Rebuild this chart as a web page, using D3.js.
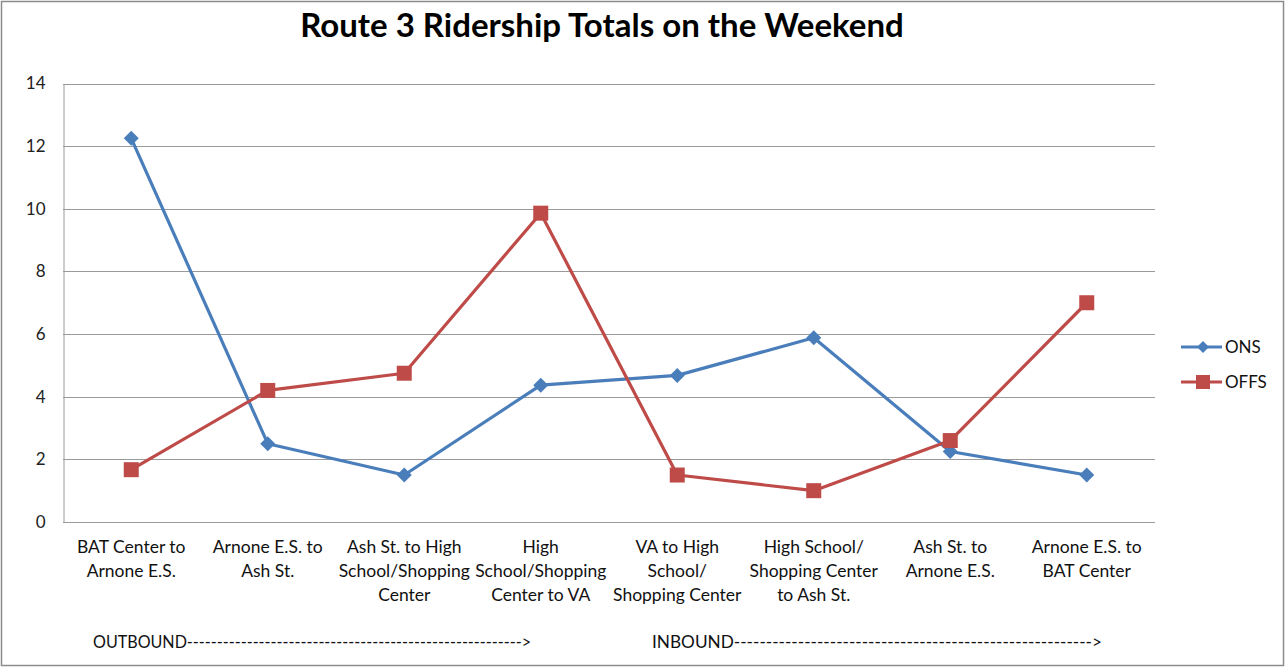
<!DOCTYPE html>
<html>
<head>
<meta charset="utf-8">
<script src="https://cdnjs.cloudflare.com/ajax/libs/d3/7.8.5/d3.min.js"></script>
<style>
  html, body { margin: 0; padding: 0; background: #fff; }
  svg { display: block; font-family: Lato, "Open Sans", sans-serif; }
</style>
</head>
<body>
<svg id="chart" width="1285" height="667"></svg>
<script>
// Route segments, in running order
const categories = [
  ["BAT Center to", "Arnone E.S."],
  ["Arnone E.S. to", "Ash St."],
  ["Ash St. to High", "School/Shopping", "Center"],
  ["High", "School/Shopping", "Center to VA"],
  ["VA to High", "School/", "Shopping Center"],
  ["High School/", "Shopping Center", "to Ash St."],
  ["Ash St. to", "Arnone E.S."],
  ["Arnone E.S. to", "BAT Center"]
];
const ons  = [12.25, 2.5, 1.5, 4.37, 4.68, 5.88, 2.25, 1.5];
const offs = [1.67, 4.2, 4.75, 9.86, 1.5, 1.0, 2.6, 7.0];
const yTicks = [0, 2, 4, 6, 8, 10, 12, 14];
const seriesNames = ["ONS", "OFFS"];
const directionLabels = ["OUTBOUND", "INBOUND"];

const colors = { ONS: "#4A7EBB", OFFS: "#BE4B48" };

const svg = d3.select("#chart");
const W = 1285, H = 667;

// outer frame
svg.append("rect").attr("x", 1.5).attr("y", 1.5).attr("width", W - 3).attr("height", H - 3)
  .attr("fill", "#fff").attr("stroke", "#8c8c8c").attr("stroke-width", 1.5);

const plot = { left: 63, right: 1155, top: 83.5, bottom: 522 };

const x = d3.scaleBand().domain(d3.range(categories.length))
  .range([plot.left, plot.right]).paddingInner(0).paddingOuter(0);
const y = d3.scaleLinear().domain([0, 14]).range([plot.bottom, plot.top]);
const cx = i => x(i) + x.bandwidth() / 2;

// title
svg.append("text").attr("x", 602).attr("y", 37).attr("text-anchor", "middle")
  .attr("font-size", 33).attr("font-weight", "bold").attr("fill", "#000")
  .text("Route 3 Ridership Totals on the Weekend");

// horizontal gridlines
svg.append("g").selectAll("line").data(yTicks.filter(d => d > 0)).join("line")
  .attr("x1", plot.left).attr("x2", plot.right)
  .attr("y1", d => Math.round(y(d)) + 0.5).attr("y2", d => Math.round(y(d)) + 0.5)
  .attr("stroke", "#9a9a9a").attr("stroke-width", 1);

// y axis
const yAxis = svg.append("g").attr("transform", `translate(${plot.left + 0.5},0)`)
  .call(d3.axisLeft(y).tickValues(yTicks).tickSize(0).tickPadding(18).tickFormat(d3.format("d")));
yAxis.select(".domain").attr("stroke", "#9a9a9a");
yAxis.selectAll("text").attr("font-size", 17).attr("fill", "#222").attr("font-family", "Lato, sans-serif");

// x axis baseline
svg.append("line").attr("x1", plot.left).attr("x2", plot.right)
  .attr("y1", plot.bottom + 0.5).attr("y2", plot.bottom + 0.5)
  .attr("stroke", "#9a9a9a").attr("stroke-width", 1);

// category labels
const xl = svg.append("g");
categories.forEach((lines, i) => {
  const t = xl.append("text").attr("text-anchor", "middle").attr("font-size", 17.5).attr("fill", "#111");
  lines.forEach((ln, k) => {
    t.append("tspan").attr("x", cx(i)).attr("y", 553 + k * 24).text(ln);
  });
});

// direction notes
const dashes = "-".repeat(56);
svg.append("text").attr("x", 93).attr("y", 648).attr("font-size", 17.5).attr("fill", "#111")
  .attr("textLength", 438).attr("lengthAdjust", "spacingAndGlyphs")
  .text(directionLabels[0] + dashes + ">");
svg.append("text").attr("x", 652).attr("y", 648).attr("font-size", 17.5).attr("fill", "#111")
  .attr("textLength", 450).attr("lengthAdjust", "spacingAndGlyphs")
  .text(directionLabels[1] + dashes + ">");

// series
const line = d3.line().x((d, i) => cx(i)).y(d => y(d));
const diamond = (px, py, r) => `M${px},${py - r}L${px + r},${py}L${px},${py + r}L${px - r},${py}Z`;

function drawSeries(values, name) {
  const g = svg.append("g");
  g.append("path").datum(values).attr("d", line).attr("fill", "none")
    .attr("stroke", colors[name]).attr("stroke-width", 3.2).attr("stroke-linejoin", "round");
  if (name === "ONS") {
    g.selectAll("path.m").data(values).join("path").attr("class", "m")
      .attr("d", (d, i) => diamond(cx(i), y(d), 7.5)).attr("fill", colors[name]);
  } else {
    g.selectAll("rect").data(values).join("rect")
      .attr("x", (d, i) => cx(i) - 7.5).attr("y", d => y(d) - 7.5)
      .attr("width", 15).attr("height", 15).attr("fill", colors[name]);
  }
}
drawSeries(ons, "ONS");
drawSeries(offs, "OFFS");

// legend
const leg = svg.append("g");
seriesNames.forEach((name, k) => {
  const ly = 347 + k * 35;
  leg.append("line").attr("x1", 1181).attr("x2", 1222).attr("y1", ly).attr("y2", ly)
    .attr("stroke", colors[name]).attr("stroke-width", 3.2);
  if (name === "ONS") {
    leg.append("path").attr("d", diamond(1203, ly, 6)).attr("fill", colors[name]);
  } else {
    leg.append("rect").attr("x", 1196).attr("y", ly - 7).attr("width", 14).attr("height", 14).attr("fill", colors[name]);
  }
  leg.append("text").attr("x", 1225).attr("y", ly + 6).attr("font-size", 17).attr("fill", "#111").text(name);
});
</script>
</body>
</html>
